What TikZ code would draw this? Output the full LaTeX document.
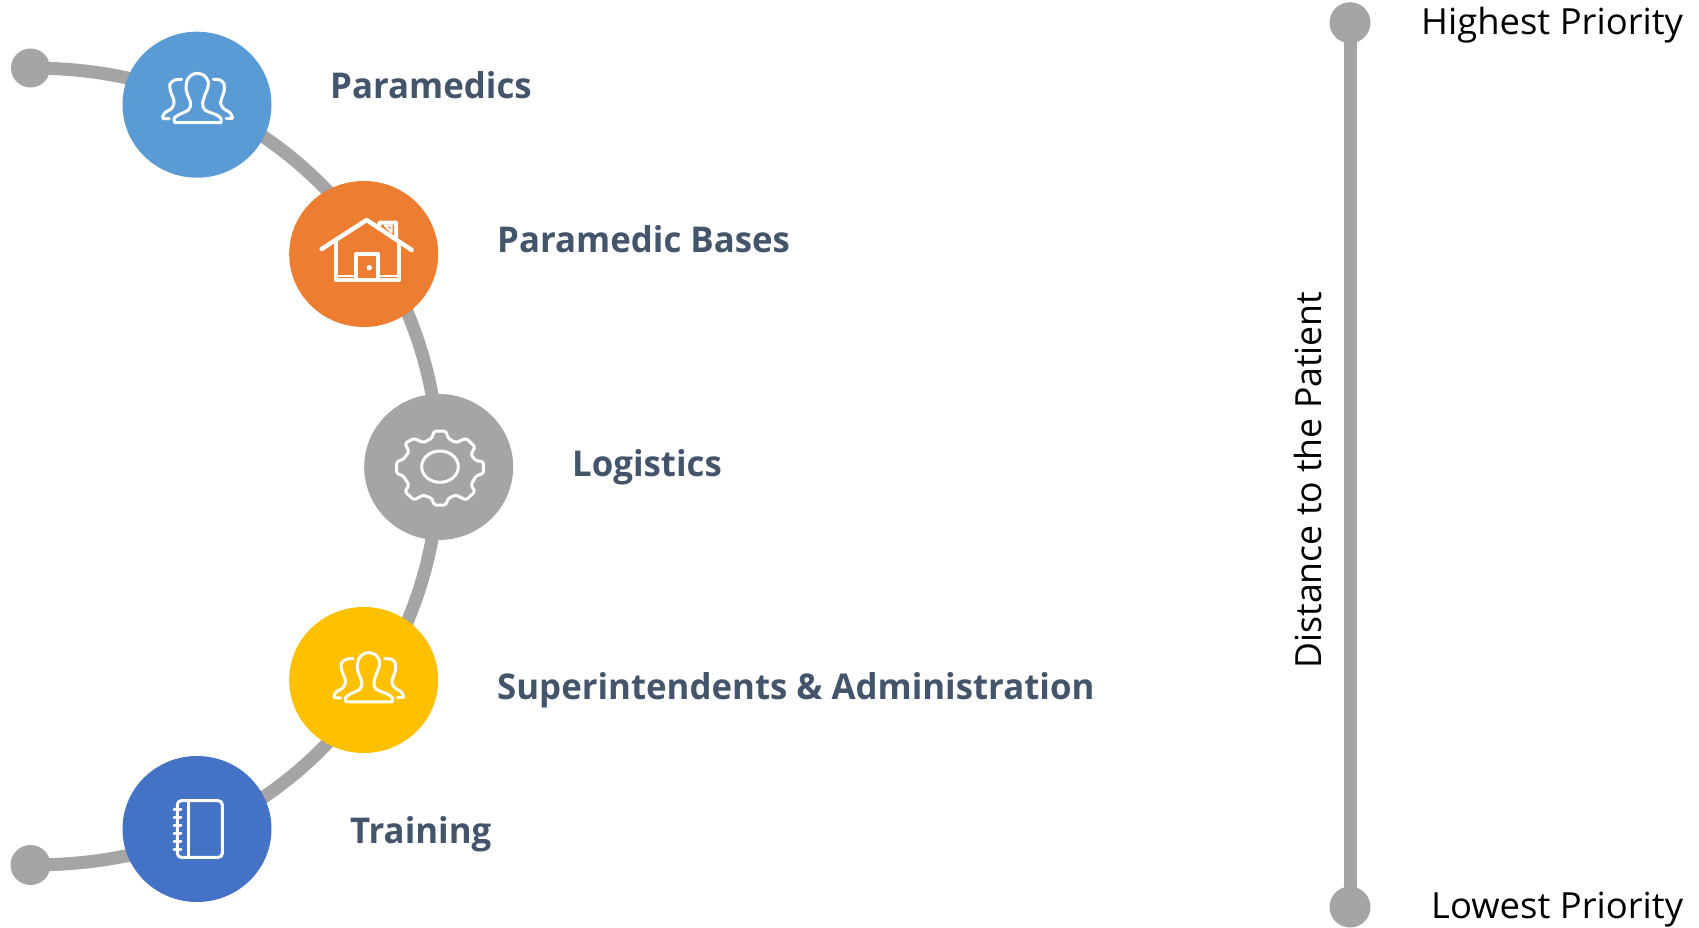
\documentclass[tikz,border=0pt]{standalone}
\usepackage{fontspec}
\setmainfont{Open Sans}
\newfontfamily\lblfont[FakeStretch=0.98]{Open Sans Bold}
\newfontfamily\regfont[FakeStretch=1.012]{Open Sans}
\newfontfamily\sidefont[FakeStretch=0.99]{Open Sans}
\usetikzlibrary{backgrounds,shapes.geometric}
\definecolor{cBlue}{HTML}{5B9BD5}
\definecolor{cOrange}{HTML}{ED7D31}
\definecolor{cGray}{HTML}{A5A5A5}
\definecolor{cYellow}{HTML}{FFC000}
\definecolor{cDark}{HTML}{4472C4}
\definecolor{cText}{HTML}{44546A}
\tikzset{
  disc/.style={ellipse,inner sep=0pt,minimum width=149pt,minimum height=146pt,fill=#1,draw=none},
  dotend/.style={circle,inner sep=0pt,minimum size=#1,fill=cGray,draw=none},
  conn/.style={draw=cGray,line width=13pt,looseness=0.87},
  lbl/.style={anchor=base west,inner sep=0pt,text=cText,font=\lblfont\fontsize{35.5}{42}\selectfont},
  note/.style={inner sep=0pt,text=black,font=\regfont\fontsize{36}{43}\selectfont},
  ico/.style={draw=white,line width=3pt,line join=round,line cap=round},
  people/.pic={
    \draw[ico] plot[smooth,tension=0.55] coordinates {(75,188)(72,176)(85,165)(115,150)(122,130)(113,105)(108,85)(112,60)(125,45)(142,40)(162,46)(175,65)(172,88)(165,105)(158,130)(165,150)(200,165)(213,176)(213,188)} -- cycle;
    \draw[ico] plot[smooth,tension=0.55] coordinates {(95,58)(75,60)(60,72)(62,95)(70,115)(72,130)(65,145)(45,158)(38,170)};
    \draw[ico] (38,170) -- (40,176) -- (58,176);
    \draw[ico] plot[smooth,tension=0.55] coordinates {(190,58)(210,60)(222,72)(222,95)(215,115)(212,130)(220,145)(240,158)(246,170)};
    \draw[ico] (246,170) -- (246,176) -- (228,176);
  }
}
\begin{document}
\begin{tikzpicture}[x=1pt,y=-1pt]
\useasboundingbox (0,0) rectangle (1699,928);
% arc nodes
\node[dotend=39pt] (dotA) at (30.5,68) {};
\node[disc=cBlue] (nA) at (197,104.7) {};
\node[disc=cOrange] (nB) at (363.7,254) {};
\node[disc=cGray] (nC) at (438.7,467) {};
\node[disc=cYellow] (nD) at (363.7,680) {};
\node[disc=cDark] (nE) at (197,829) {};
\node[dotend=40pt] (dotB) at (30.5,865) {};
\coordinate (pA) at (198.7,101);
\coordinate (pB) at (373,248);
\coordinate (pD) at (373,686);
\coordinate (pE) at (198.7,833);
% priority scale
\node[dotend=41pt] (dotH) at (1350,22.7) {};
\node[dotend=41pt] (dotL) at (1350,907) {};
\begin{scope}[on background layer]
  \draw[conn] (dotA.center) to[out=0,in=156.5] (pA);
  \draw[conn] (pA) to[out=-23.5,in=123.3] (pB);
  \draw[conn] (pB) to[out=-56.7,in=90] (nC.center);
  \draw[conn] (nC.center) to[out=-90,in=56.7] (pD);
  \draw[conn] (pD) to[out=-123.3,in=23.5] (pE);
  \draw[conn] (pE) to[out=-156.5,in=0] (dotB.center);
  \draw[conn] (dotH.center) -- (dotL.center);
\end{scope}
% labels
\node[lbl] (tA) at (330,98.5) {Paramedics};
\node[lbl] (tB) at (497,252) {Paramedic Bases};
\node[lbl] (tC) at (572,476) {Logistics};
\node[lbl] (tD) at (497,699) {Superintendents \& Administration};
\node[lbl] (tE) at (350,843) {Training};
\node[note,anchor=base west] (tH) at (1421,34.5) {Highest Priority};
\node[note,anchor=base west] (tL) at (1431,918.5) {Lowest Priority};
\node[note,anchor=base,rotate=90,font=\sidefont\fontsize{36}{43}\selectfont] (tP) at (1321.7,480) {Distance to the Patient};
% icons
\pic[scale=1/3] at (150,60) {people};
\pic[scale=1/3] at (321.3,639.3) {people};
% house
\begin{scope}[shift={(310,205)},scale=1/3]
  \draw[ico,line width=4.4pt] (35,132) -- (170,45) -- (305,135);
  \draw[ico,line width=4pt] (207,62) -- (208,53) -- (258,53) -- (258,95);
  \draw[ico,line width=2pt] (225,62) -- (245,62) -- (245,82) -- cycle;
  \draw[ico,line width=4pt] (78,110) -- (78,225) -- (268,225) -- (268,110);
  \draw[ico,line width=4pt] (138,225) -- (138,147) -- (203,147) -- (203,225);
  \fill[white] (178,188) circle[radius=8];
  \draw[ico,line width=2pt,line cap=butt] (85,212) -- (132,212);
  \draw[ico,line width=2pt,line cap=butt] (210,212) -- (262,212);
\end{scope}
% gear
\begin{scope}[shift={(385,420)},scale=1/3]
  \draw[ico] (165,140) ellipse[x radius=55,y radius=47];
  \draw[ico,rounded corners=1.6pt] (140,55) -- (148,33) -- (182,33) -- (190,55) -- (212,68) -- (243,55) -- (270,80) -- (258,105) -- (273,122) -- (295,125) -- (295,160) -- (273,168) -- (258,195) -- (270,215) -- (243,240) -- (212,225) -- (190,235) -- (182,255) -- (148,255) -- (140,235) -- (115,225) -- (87,240) -- (60,215) -- (72,195) -- (55,168) -- (35,160) -- (35,125) -- (55,118) -- (72,95) -- (60,70) -- (87,55) -- (115,68) -- cycle;
\end{scope}
% notebook
\begin{scope}[shift={(160,790)},scale=1/3]
  \draw[ico,rounded corners=4pt] (52,32) rectangle (187,202);
  \draw[ico] (85,32) -- (85,202);
  \foreach \yy in {57,82,107,130,155,178} \draw[ico] (42,\yy) -- (63,\yy);
\end{scope}
\end{tikzpicture}
\end{document}
